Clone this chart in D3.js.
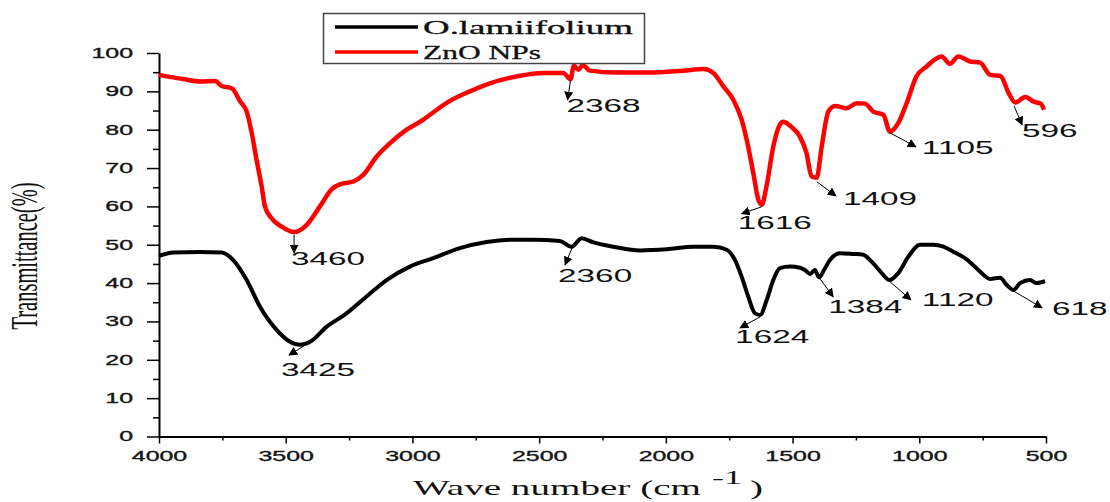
<!DOCTYPE html>
<html>
<head>
<meta charset="utf-8">
<script src="https://cdn.jsdelivr.net/npm/d3@7"></script>
<style>
  body { margin: 0; background: #fff; }
  .tick text { font-family: "Liberation Sans", Arial, sans-serif; font-size: 14px; fill: #161616; stroke: #161616; stroke-width: 0.35px; }
</style>
</head>
<body>
<svg id="chart" width="1110" height="502"></svg>
<script>
// ZnO NPs spectrum (red)
const waveRed = [4000, 3904, 3838, 3779, 3753, 3713, 3680, 3654, 3634, 3615, 3595, 3582, 3556, 3516, 3467,
  3417, 3365, 3318, 3279, 3233, 3194, 3141, 3088, 3023, 2957, 2904, 2852, 2773, 2694, 2588, 2483, 2405,
  2376, 2363, 2345, 2328, 2300, 2195, 2063, 1931, 1852, 1813, 1773, 1734, 1701, 1681, 1655, 1635, 1622,
  1603, 1576, 1550, 1537, 1504, 1471, 1445, 1425, 1405, 1385, 1359, 1333, 1287, 1247, 1214, 1181, 1142,
  1116, 1083, 1050, 1011, 971, 912, 879, 846, 800, 760, 721, 680, 647, 621, 581, 548, 521, 508]
const transRed = [94.3, 93.2, 92.6, 92.7, 91.4, 90.8, 87.4, 84.7, 79.1, 72.1, 65.2, 60.0, 56.9, 54.7, 53.3,
  55.2, 60.0, 64.5, 65.9, 66.5, 68.2, 73.0, 76.5, 80.0, 82.6, 85.2, 87.5, 90.0, 92.1, 93.9, 94.8, 94.8,
  93.2, 96.7, 95.6, 96.9, 95.4, 94.9, 94.9, 95.4, 95.8, 94.8, 91.3, 87.8, 82.6, 77.4, 68.7, 61.7, 60.4,
  65.2, 75.6, 81.3, 82.1, 80.7, 78.2, 73.9, 67.8, 67.5, 75.6, 84.7, 86.2, 85.6, 86.9, 86.8, 84.7, 83.9,
  79.5, 81.7, 86.9, 93.9, 96.5, 99.1, 97.2, 99.1, 97.8, 97.5, 94.3, 94.0, 89.5, 87.1, 88.5, 87.3, 86.8, 85.2]

// O.lamiifolium spectrum (black)
const waveBlack = [4000, 3944, 3838, 3753, 3707, 3654, 3602, 3536, 3483, 3444, 3404, 3339, 3260, 3181, 3102,
  3010, 2918, 2813, 2707, 2602, 2523, 2418, 2372, 2332, 2286, 2207, 2102, 1997, 1891, 1812, 1760, 1727,
  1701, 1675, 1648, 1628, 1602, 1576, 1550, 1510, 1471, 1451, 1431, 1412, 1395, 1376, 1353, 1313, 1260,
  1221, 1188, 1148, 1118, 1083, 1043, 997, 944, 905, 866, 813, 760, 721, 681, 655, 628, 602, 563, 537, 504]
const transBlack = [47.1, 48.0, 48.1, 48.0, 46.0, 40.8, 33.9, 27.8, 24.7, 23.9, 24.7, 28.6, 32.1, 36.5, 40.8,
  44.3, 46.5, 49.1, 50.7, 51.3, 51.3, 51.0, 49.5, 51.7, 50.6, 49.5, 48.5, 48.8, 49.5, 49.5, 48.7, 46.0,
  41.7, 36.5, 32.1, 31.7, 35.6, 40.8, 43.9, 44.3, 44.0, 43.4, 42.4, 43.4, 41.5, 43.4, 46.0, 47.8, 47.6,
  47.4, 45.6, 42.6, 40.8, 42.6, 46.9, 50.0, 50.0, 49.5, 48.2, 46.2, 43.0, 41.1, 41.4, 39.5, 38.2, 40.0,
  40.8, 40.0, 40.5]

const seriesNames = ['O.lamiifolium', 'ZnO NPs']
const seriesColors = ['#000000', '#ff0000']

const xTicks = [4000, 3500, 3000, 2500, 2000, 1500, 1000, 500]
const xMinor = [3750, 3250, 2750, 2250, 1750, 1250, 750]
const yTicks = [0, 10, 20, 30, 40, 50, 60, 70, 80, 90, 100]
const yMinor = [5, 15, 25, 35, 45, 55, 65, 75, 85, 95]

// peak labels: text, wavenumber of the arrow tail, transmittance of the arrow tail
const peaksRed = ['3460', '2368', '1616', '1409', '1105', '596']
const peaksRedWave = [3467, 2376, 1622, 1404, 1116, 626]
const peaksRedT = [52.6, 93.0, 59.9, 66.4, 79.2, 86.2]
const peaksBlack = ['3425', '2360', '1624', '1384', '1120', '618']
const peaksBlackWave = [3428, 2370, 1628, 1395, 1120, 630]
const peaksBlackT = [23.6, 49.2, 31.2, 41.4, 40.6, 38.0]

// where arrow heads and labels sit relative to the tail (px): [ax, ay, lx, ly]
const redOffsets = [[0, 18, -3, 30], [-3, 20, -4, 32], [-20, 7, -24, 22], [19, 14, 26, 23], [26, 14, 32, 21], [8, 19, 8, 31]]
const blackOffsets = [[-15, 9, -23, 30], [-7, 17, -14, 34], [-20, 11, -25, 26], [14, 19, 9, 35], [22, 19, 33, 25], [29, 17, 39, 24]]

const svg = d3.select('#chart')

const x = d3.scaleLinear().domain([4000, 500]).range([159, 1046])
const y = d3.scaleLinear().domain([0, 100]).range([436.5, 53])

// the picture is wider than it is tall, text gets stretched sideways
function stretch(sel, k) {
  sel.each(function () {
    const w = this.getComputedTextLength()
    d3.select(this).attr('textLength', w * k).attr('lengthAdjust', 'spacingAndGlyphs')
  })
}

svg.append('defs').append('marker')
  .attr('id', 'head')
  .attr('viewBox', '0 0 10 10')
  .attr('refX', 9).attr('refY', 5)
  .attr('markerWidth', 9).attr('markerHeight', 9)
  .attr('markerUnits', 'userSpaceOnUse')
  .attr('orient', 'auto')
  .append('path').attr('d', 'M0,0 L10,5 L0,10 z').attr('fill', '#000')

// axes
const yAxis = svg.append('g').attr('transform', 'translate(159,0)')
  .call(d3.axisLeft(y).tickValues(yTicks).tickSize(12).tickSizeOuter(0).tickPadding(14))
svg.append('g').attr('transform', 'translate(159,0)')
  .call(d3.axisLeft(y).tickValues(yMinor).tickSize(6).tickFormat(''))
  .call(g => g.select('.domain').remove())

const xAxis = svg.append('g').attr('transform', 'translate(0,436.5)')
  .call(d3.axisBottom(x).tickValues(xTicks).tickFormat(d3.format('d')).tickSize(7).tickSizeOuter(0).tickPadding(8))
svg.append('g').attr('transform', 'translate(0,436.5)')
  .call(d3.axisBottom(x).tickValues(xMinor).tickSize(4).tickFormat(''))
  .call(g => g.select('.domain').remove())

svg.selectAll('.domain').attr('stroke', '#000').attr('stroke-width', 2)
svg.selectAll('.tick line').attr('stroke', '#000').attr('stroke-width', 1.5)
stretch(yAxis.selectAll('.tick text'), 1.78)
stretch(xAxis.selectAll('.tick text'), 1.78)

// spectra
const line = d3.line()
  .x(d => x(d[0]))
  .y(d => y(d[1]))
  .curve(d3.curveMonotoneX)

svg.append('path')
  .datum(waveBlack.map((w, i) => [w, transBlack[i]]))
  .attr('d', line)
  .attr('fill', 'none')
  .attr('stroke', seriesColors[0])
  .attr('stroke-width', 4)
  .attr('stroke-linejoin', 'round')

svg.append('path')
  .datum(waveRed.map((w, i) => [w, transRed[i]]))
  .attr('d', line)
  .attr('fill', 'none')
  .attr('stroke', seriesColors[1])
  .attr('stroke-width', 4.5)
  .attr('stroke-linejoin', 'round')

// peak annotations
function annotate(labels, waves, vals, offs) {
  labels.forEach((lab, i) => {
    const px = x(waves[i]), py = y(vals[i])
    const o = offs[i]
    svg.append('line')
      .attr('x1', px).attr('y1', py)
      .attr('x2', px + o[0]).attr('y2', py + o[1])
      .attr('stroke', '#000').attr('stroke-width', 1)
      .attr('marker-end', 'url(#head)')
    svg.append('text')
      .attr('x', px + o[2]).attr('y', py + o[3])
      .attr('font-family', '"Liberation Sans", Arial, sans-serif')
      .attr('font-size', 18)
      .attr('fill', '#111')
      .text(lab)
      .call(stretch, 1.85)
  })
}
annotate(peaksRed, peaksRedWave, peaksRedT, redOffsets)
annotate(peaksBlack, peaksBlackWave, peaksBlackT, blackOffsets)

// legend
const legend = svg.append('g')
legend.append('rect')
  .attr('x', 323.5).attr('y', 13.5).attr('width', 321).attr('height', 50)
  .attr('fill', '#fff').attr('stroke', '#444').attr('stroke-width', 1.5)
const legendW = [210, 118]
seriesNames.forEach((name, i) => {
  const ly = 27 + i * 25
  legend.append('line')
    .attr('x1', 335).attr('x2', 418).attr('y1', ly).attr('y2', ly)
    .attr('stroke', seriesColors[i]).attr('stroke-width', 3.5)
  legend.append('text')
    .attr('x', 423).attr('y', ly + 6.5)
    .attr('font-family', '"Liberation Serif", "Times New Roman", serif')
    .attr('font-size', 19)
    .attr('fill', '#111')
    .attr('stroke', '#111').attr('stroke-width', 0.3)
    .attr('textLength', legendW[i]).attr('lengthAdjust', 'spacingAndGlyphs')
    .text(name)
})

// axis titles
svg.append('text')
  .attr('transform', 'translate(37,256) scale(1.9,1) rotate(-90)')
  .attr('text-anchor', 'middle')
  .attr('font-family', '"Liberation Serif", "Times New Roman", serif')
  .attr('font-size', 20)
  .attr('fill', '#111')
  .attr('textLength', 147).attr('lengthAdjust', 'spacingAndGlyphs')
  .text('Transmittance(%)')

const xt = svg.append('g').attr('font-family', '"Liberation Serif", "Times New Roman", serif').attr('fill', '#111')
xt.append('text').attr('x', 413).attr('y', 495).attr('font-size', 22)
  .attr('textLength', 288).attr('lengthAdjust', 'spacingAndGlyphs')
  .text('Wave number (cm')
xt.append('text').attr('x', 712).attr('y', 484).attr('font-size', 19)
  .attr('textLength', 30).attr('lengthAdjust', 'spacingAndGlyphs')
  .text('-1')
xt.append('text').attr('x', 750).attr('y', 495).attr('font-size', 22)
  .attr('textLength', 13).attr('lengthAdjust', 'spacingAndGlyphs')
  .text(')')
</script>
</body>
</html>
